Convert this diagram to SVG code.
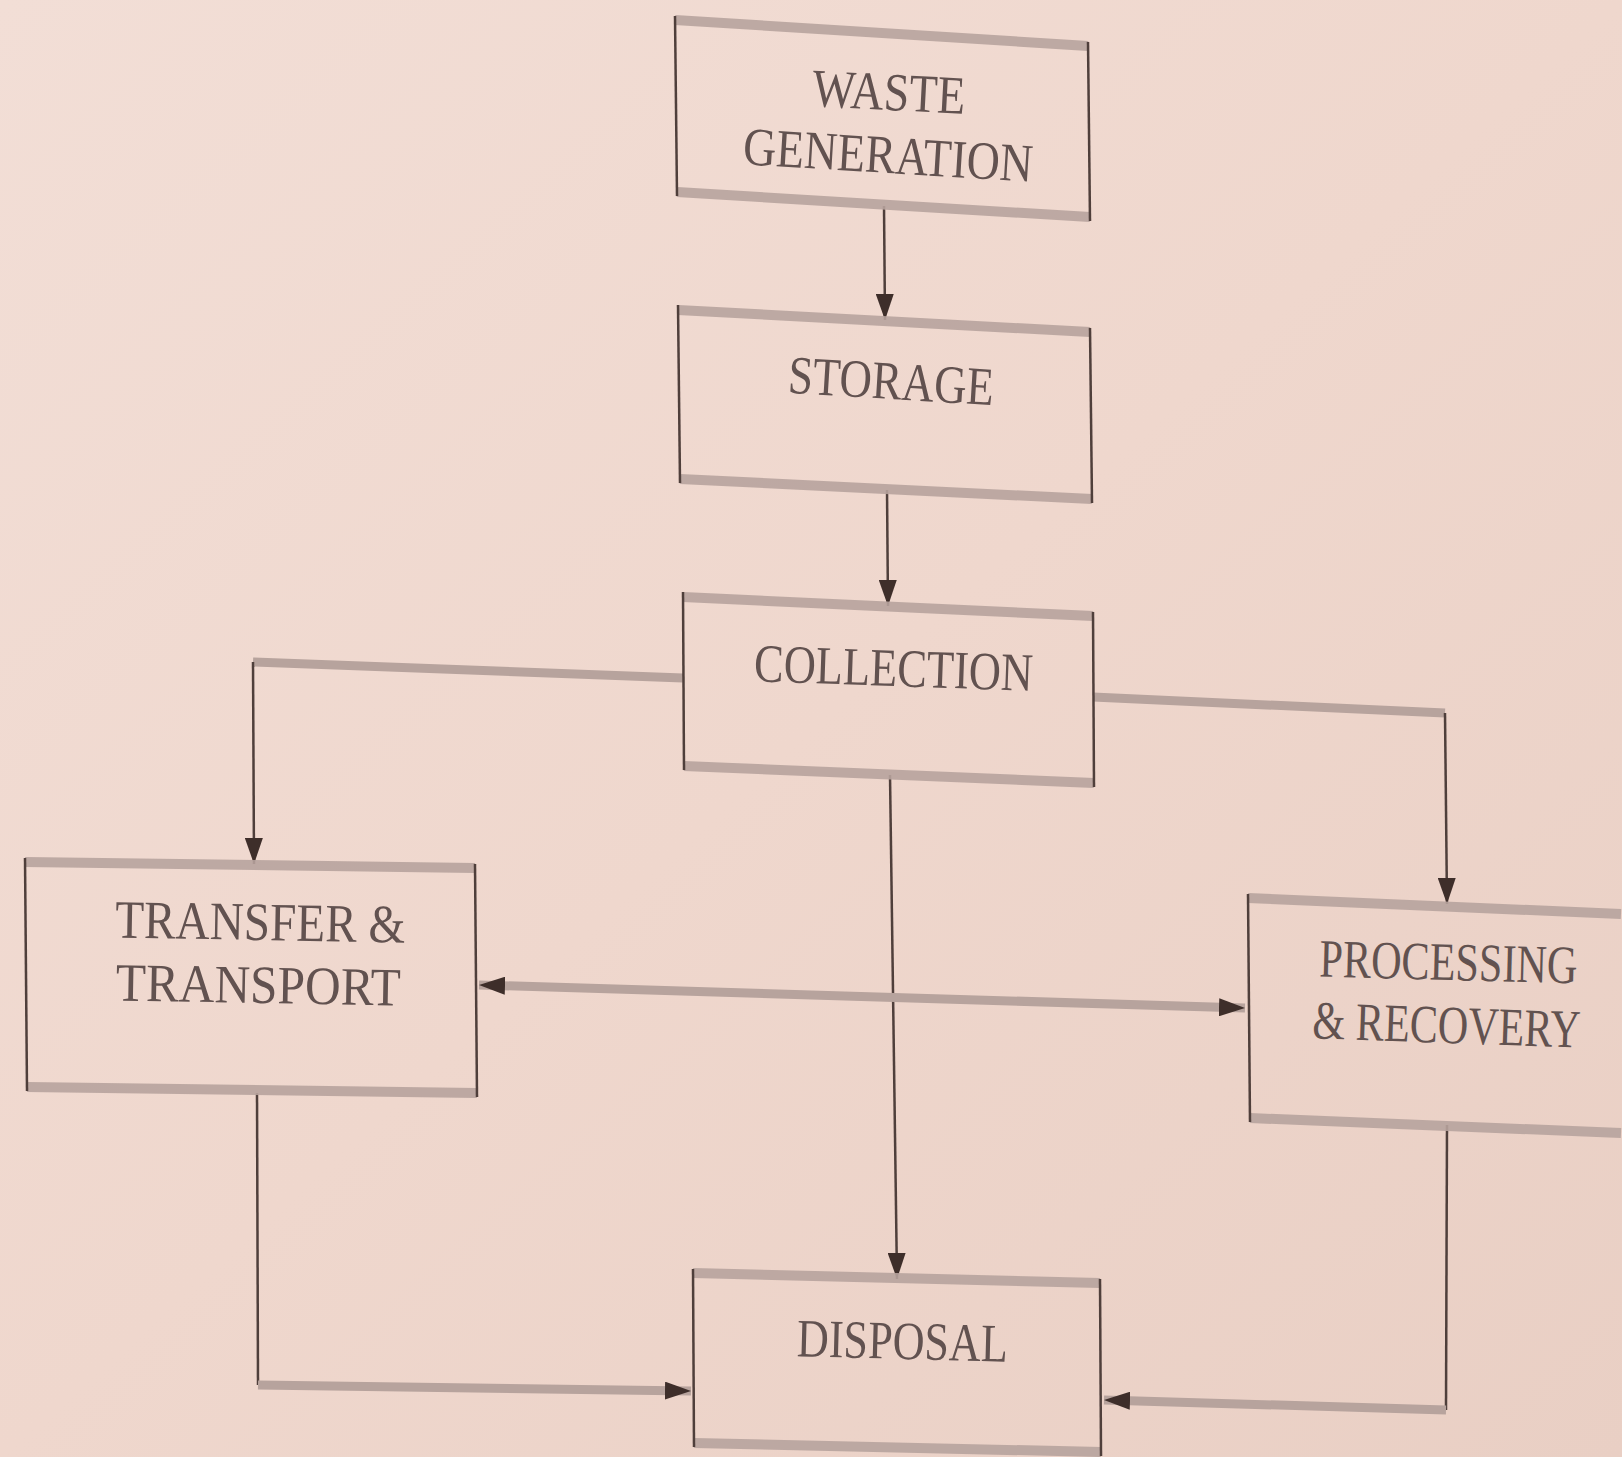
<svg xmlns="http://www.w3.org/2000/svg" width="1622" height="1457" viewBox="0 0 1622 1457">
<defs>
<linearGradient id="bg" x1="0" y1="0" x2="1" y2="1">
<stop offset="0" stop-color="#f2ded6"/>
<stop offset="0.5" stop-color="#efd7cd"/>
<stop offset="1" stop-color="#e9cfc4"/>
</linearGradient>
<marker id="ah" viewBox="0 0 26 18" refX="26" refY="9" markerWidth="26" markerHeight="18" markerUnits="userSpaceOnUse" orient="auto-start-reverse">
<path d="M0,0 L26,9 L0,18 Z" fill="#3e2e2a"/>
</marker>
</defs>
<style>
.h{stroke:#b7a39d;stroke-width:10;fill:none;stroke-linecap:butt;opacity:0.9}
.v{stroke:#4f3f3b;stroke-width:2.5;fill:none}
.t{font-family:"Liberation Serif","Times New Roman",serif;font-size:54px;fill:#625250;text-anchor:middle}
.ch{stroke:#b7a39d;stroke-width:9;fill:none}
.cv{stroke:#4f3f3b;stroke-width:2.5;fill:none}
</style>
<rect x="0" y="0" width="1622" height="1457" fill="url(#bg)"/>

<g id="connectors">
<g id="c-waste-storage">
<line class="cv" x1="884" y1="206" x2="885" y2="320" marker-end="url(#ah)"/>
</g>
<g id="c-storage-collection">
<line class="cv" x1="887" y1="490" x2="888" y2="606" marker-end="url(#ah)"/>
</g>
<g id="c-collection-transfer">
<line class="ch" x1="683" y1="678" x2="253" y2="662"/>
<line class="cv" x1="253" y1="662" x2="254" y2="864" marker-end="url(#ah)"/>
</g>
<g id="c-collection-processing">
<line class="ch" x1="1093" y1="697" x2="1445" y2="713"/>
<line class="cv" x1="1445" y1="713" x2="1447" y2="904" marker-end="url(#ah)"/>
</g>
<g id="c-collection-disposal">
<line class="cv" x1="890" y1="775" x2="897" y2="1279" marker-end="url(#ah)"/>
</g>
<g id="c-transfer-processing">
<line class="ch" x1="479" y1="985" x2="1245" y2="1008" marker-start="url(#ah)" marker-end="url(#ah)"/>
</g>
<g id="c-transfer-disposal">
<line class="cv" x1="257" y1="1093" x2="258" y2="1385"/>
<line class="ch" x1="258" y1="1385" x2="691" y2="1391" marker-end="url(#ah)"/>
</g>
<g id="c-processing-disposal">
<line class="cv" x1="1447" y1="1125" x2="1446" y2="1410"/>
<line class="ch" x1="1446" y1="1410" x2="1104" y2="1400" marker-end="url(#ah)"/>
</g>
</g>

<g id="waste-generation">
<line class="h" x1="675" y1="20" x2="1088" y2="46"/>
<line class="h" x1="677" y1="192" x2="1090" y2="217"/>
<line class="v" x1="675" y1="16" x2="677" y2="196"/>
<line class="v" x1="1088" y1="42" x2="1090" y2="221"/>
<text class="t" x="888" y="110" textLength="153" lengthAdjust="spacingAndGlyphs" transform="rotate(3 888 110)">WASTE</text>
<text class="t" x="887" y="173" textLength="290" lengthAdjust="spacingAndGlyphs" transform="rotate(3.5 887 173)">GENERATION</text>
</g>

<g id="storage">
<line class="h" x1="678" y1="310" x2="1090" y2="332"/>
<line class="h" x1="680" y1="479" x2="1092" y2="499"/>
<line class="v" x1="678" y1="305" x2="680" y2="483"/>
<line class="v" x1="1090" y1="328" x2="1092" y2="503"/>
<text class="t" x="890" y="399" textLength="206" lengthAdjust="spacingAndGlyphs" transform="rotate(3.5 890 399)">STORAGE</text>
</g>

<g id="collection">
<line class="h" x1="683" y1="597" x2="1093" y2="616"/>
<line class="h" x1="684" y1="766" x2="1094" y2="783"/>
<line class="v" x1="683" y1="592" x2="684" y2="770"/>
<line class="v" x1="1093" y1="612" x2="1094" y2="787"/>
<text class="t" x="893" y="686" textLength="279" lengthAdjust="spacingAndGlyphs" transform="rotate(2 893 686)">COLLECTION</text>
</g>

<g id="transfer-transport">
<line class="h" x1="25" y1="862" x2="475" y2="868"/>
<line class="h" x1="27" y1="1087" x2="477" y2="1093"/>
<line class="v" x1="25" y1="858" x2="27" y2="1091"/>
<line class="v" x1="475" y1="864" x2="477" y2="1097"/>
<text class="t" x="260" y="940" textLength="290" lengthAdjust="spacingAndGlyphs" transform="rotate(1 260 940)">TRANSFER &amp;</text>
<text class="t" x="258" y="1003" textLength="285" lengthAdjust="spacingAndGlyphs" transform="rotate(1 258 1003)">TRANSPORT</text>
</g>

<g id="processing-recovery">
<line class="h" x1="1248" y1="898" x2="1621" y2="914"/>
<line class="h" x1="1250" y1="1118" x2="1621" y2="1133"/>
<line class="v" x1="1248" y1="894" x2="1250" y2="1122"/>
<text class="t" x="1448" y="980" textLength="258" lengthAdjust="spacingAndGlyphs" transform="rotate(1.5 1448 980)">PROCESSING</text>
<text class="t" x="1446" y="1043" textLength="268" lengthAdjust="spacingAndGlyphs" transform="rotate(2 1446 1043)">&amp; RECOVERY</text>
</g>

<g id="disposal">
<line class="h" x1="693" y1="1273" x2="1100" y2="1283"/>
<line class="h" x1="694" y1="1443" x2="1101" y2="1452"/>
<line class="v" x1="693" y1="1269" x2="694" y2="1447"/>
<line class="v" x1="1100" y1="1279" x2="1101" y2="1456"/>
<text class="t" x="902" y="1359" textLength="211" lengthAdjust="spacingAndGlyphs" transform="rotate(1.5 902 1359)">DISPOSAL</text>
</g>
</svg>
